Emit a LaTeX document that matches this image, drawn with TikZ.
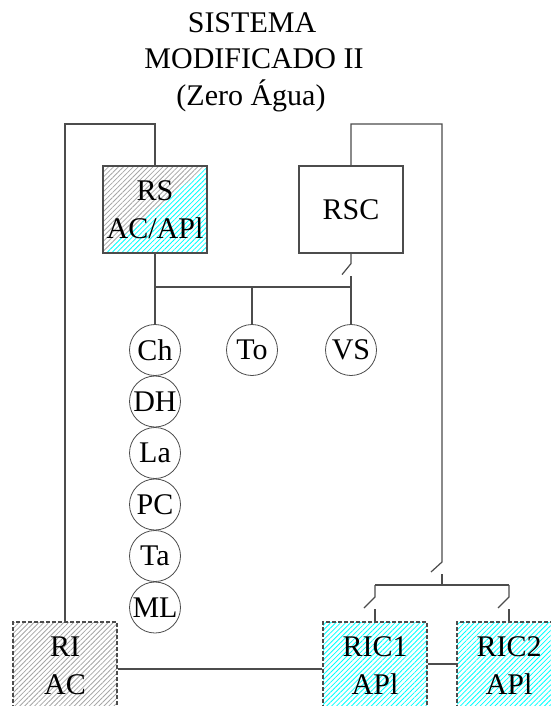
\documentclass[tikz,border=0pt]{standalone}
\usepackage{fontspec}
\setmainfont{Liberation Serif}
\usetikzlibrary{patterns.meta}

\begin{document}
\begin{tikzpicture}[x=1pt, y=-1pt, line width=1.2pt, color=black!70,
    caixa/.style={draw=black!70, text=black, minimum width=104pt, minimum height=87pt,
        inner sep=0pt, align=center, font=\fontsize{30}{38}\selectfont},
    tracejada/.style={dash pattern=on 4pt off 2pt},
    circulo/.style={circle, draw=black!70, text=black, line width=0.8pt, minimum size=51pt,
        inner sep=0pt, font=\fontsize{30}{36}\selectfont},
    hachura/.style={pattern={Lines[angle=45, distance=3.5pt, line width=0.8pt]}, pattern color=#1},
    titulo/.style={anchor=base, text=black, font=\fontsize{30}{36}\selectfont}]
    \useasboundingbox (0,0) rectangle (550,706);

    \node [titulo] (t1) at (252,33) {SISTEMA};
    \node [titulo] (t2) at (254,69) {MODIFICADO II};
    \node [titulo] (t3) at (251,106) {(Zero Água)};

    \node [caixa, path picture={
        \fill [hachura=black!35] (path picture bounding box.south west) -- (path picture bounding box.north west)
            -- (path picture bounding box.north east) -- cycle;
        \fill [hachura=cyan] (path picture bounding box.south west) -- (path picture bounding box.south east)
            -- (path picture bounding box.north east) -- cycle;}] (rs) at (155,209.5) {RS\\AC/APl};
    \node [caixa] (rsc) at (351,209.5) {RSC};
    \node [caixa, tracejada, hachura=black!35] (ri) at (65,665.5) {RI\\AC};
    \node [caixa, tracejada, hachura=cyan] (ric1) at (375,665.5) {RIC1\\APl};
    \node [caixa, tracejada, hachura=cyan] (ric2) at (509,665.5) {RIC2\\APl};

    \foreach \nome [count=\i from 0] in {Ch, DH, La, PC, Ta, ML}
        \node [circulo] (\nome) at (155, {350+51.5*\i}) {\nome};
    \node [circulo] (To) at (252,350) {To};
    \node [circulo] (VS) at (351,350) {VS};

    \coordinate (cantoE) at (65,124);
    \coordinate (cantoD) at (442,124);
    \coordinate (barra) at (155,287);
    \coordinate (barraD) at (442,585);

    \draw (rs.north) |- (cantoE) -- (ri.north);
    \draw (rs.south) -- (Ch.north);
    \draw (barra) -- (barra -| VS);
    \draw (To.north) -- (To |- barra);
    \draw (rsc.south) -- ++(0,10) -- ++(-9,11);
    \draw (VS.north) -- ++(0,-48);

    \draw (rsc.north) |- (cantoD) -- ++(0,438) -- ++(-11,10);
    \draw (barraD) -- ++(0,-11);
    \draw (ric1.north |- barraD) -- (ric2.north |- barraD);
    \foreach \r in {ric1, ric2} {
        \draw (\r.north |- barraD) -- ++(0,12) -- ++(-11,11);
        \draw (\r.north) -- ++(0,-12);
    }

    \draw ([yshift=-3.5pt]ri.east) -- ([yshift=-3.5pt]ric1.west);
    \draw ([yshift=1.5pt]ric1.east) -- ([yshift=1.5pt]ric2.west);
\end{tikzpicture}
\end{document}
